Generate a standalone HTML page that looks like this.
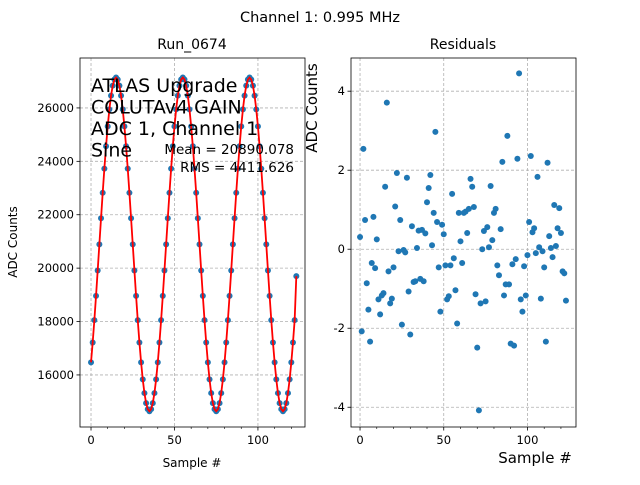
<!DOCTYPE html>
<html><head><meta charset="utf-8"><style>
body{margin:0;background:#fff;}
svg text{font-family:"DejaVu Sans","Liberation Sans",sans-serif;fill:#000;}
</style></head><body>
<svg id="chart" width="640" height="480">
<rect width="640" height="480" fill="#fff"/>
<text x="320" y="22" font-size="14.5" text-anchor="middle">Channel 1: 0.995 MHz</text>
<g id="left"></g><g id="right"></g>
</svg>
<script>
const cycle = [16471,17216,18052,18959,19913,20890,21867,22821,23728,24564,25309,25946,26459,26834,27063,27140,27063,26834,26459,25946,25309,24564,23728,22821,21867,20890,19913,18959,18052,17216,16471,15834,15321,14946,14717,14640,14717,14946,15321,15834];
const adcValues = cycle.concat(cycle, cycle, [16471,17216,18052,19700]);
const residuals = [0.31,-2.08,2.54,0.74,-0.86,-1.53,-2.34,-0.35,0.82,-0.48,
0.25,-1.27,-1.65,-1.17,-1.11,1.58,3.71,-0.56,-1.37,-1.25,
-0.46,1.08,1.93,-0.05,0.74,-1.91,-0.02,-0.08,1.81,-1.07,
-2.16,0.58,-0.83,-0.81,0.03,0.47,-0.75,0.49,-0.81,0.40,
1.19,1.55,1.88,0.10,0.92,2.97,0.69,-0.46,-1.58,0.62,
0.38,-0.41,-1.27,-1.19,-0.41,1.40,-0.23,-1.04,-1.88,0.92,
0.20,-0.35,0.92,0.95,0.41,1.02,1.78,1.58,1.07,-1.14,
-2.49,-4.08,-1.37,0,0.46,-1.32,0.56,0.05,1.60,0.23,
0.92,1.02,-0.41,-0.66,0.51,2.21,-1.17,-0.89,2.87,-0.89,
-2.39,-0.38,-2.44,-0.25,2.29,4.45,-1.27,-1.58,-0.43,-1.17,
-0.15,0.69,2.36,0.43,0.53,-0.10,1.83,0.05,-1.25,-0.05,
-0.46,-2.34,2.19,0.33,0.03,-0.20,1.12,0.08,0.53,1.04,
0.41,-0.56,-0.61,-1.30];
const xTicks = [0,50,100];
const leftYTicks = [16000,18000,20000,22000,24000,26000];
const rightYTicks = [-4,-2,0,2,4];

const NS='http://www.w3.org/2000/svg';
function mk(p,tag,a){const e=document.createElementNS(NS,tag);for(const k in a)e.setAttribute(k,a[k]);p.appendChild(e);return e;}

function panel(g,L,R,T,B,xmin,xmax,ymin,ymax,yTicks,ydata,withLine,name){
  const sx=v=>L+(v-xmin)/(xmax-xmin)*(R-L);
  const sy=v=>B-(v-ymin)/(ymax-ymin)*(B-T);
  xTicks.forEach(t=>{
    const l=mk(g,'line',{x1:sx(t),x2:sx(t),y1:T,y2:B,stroke:'#b0b0b0','stroke-dasharray':'3,2','stroke-width':0.8});
    
    
    mk(g,'line',{x1:sx(t),x2:sx(t),y1:B,y2:B+3.5,stroke:'#000','stroke-width':0.8});
    const tx=mk(g,'text',{x:sx(t),y:B+17,'font-size':11.5,'text-anchor':'middle'});tx.textContent=t;
    
    
  });
  for(let t=0;t<=125;t+=10){ if(t%50) mk(g,'line',{x1:sx(t),x2:sx(t),y1:B,y2:B+2,stroke:'#000','stroke-width':0.6}); }
  yTicks.forEach(t=>{
    const l=mk(g,'line',{x1:L,x2:R,y1:sy(t),y2:sy(t),stroke:'#b0b0b0','stroke-dasharray':'3,2','stroke-width':0.8});
    
    
    mk(g,'line',{x1:L-3.5,x2:L,y1:sy(t),y2:sy(t),stroke:'#000','stroke-width':0.8});
    const tx=mk(g,'text',{x:L-6,y:sy(t)+4,'font-size':11.5,'text-anchor':'end'});tx.textContent=t;
    
    
  });
  ydata.forEach((v,i)=>{
    const c=mk(g,'circle',{cx:sx(i),cy:sy(v),r:3,fill:'#1f77b4'});
    
    
  });
  if(withLine){
    const p=mk(g,'polyline',{points:ydata.map((v,i)=>sx(i)+','+sy(v)).join(' '),fill:'none',stroke:'#ff0000','stroke-width':1.8});
    
    
  }
  const f=mk(g,'rect',{x:L,y:T,width:R-L,height:B-T,fill:'none',stroke:'#000','stroke-width':0.8});
  
  
}
const lg=document.getElementById('left'), rg=document.getElementById('right');
panel(lg,80,305,58,427,-6.6,128.2,14050,27870,leftYTicks,adcValues,true,'adc');
panel(rg,351,576,58,427,-5.4,129,-4.5,4.84,rightYTicks,residuals,false,'residual');
function txt(g,s,a,name){const t=mk(g,'text',a);t.textContent=s;return t;}
txt(lg,'Run_0674',{x:192,y:49,'font-size':14,'text-anchor':'middle'},'left-title');
txt(rg,'Residuals',{x:463,y:49,'font-size':14,'text-anchor':'middle'},'right-title');
txt(lg,'Sample #',{x:192,y:467,'font-size':12,'text-anchor':'middle'},'left-x-axis-title');
txt(lg,'ADC Counts',{x:0,y:0,'font-size':12,'text-anchor':'middle',transform:'translate(17,242) rotate(-90)'},'left-y-axis-title');
txt(rg,'Sample #',{x:535,y:463,'font-size':15,'text-anchor':'middle'},'right-x-axis-title');
txt(rg,'ADC Counts',{x:0,y:0,'font-size':15,'text-anchor':'middle',transform:'translate(317,108) rotate(-90)'},'right-y-axis-title');
['ATLAS Upgrade','COLUTAv4 GAIN','ADC 1, Channel 1','Sine'].forEach((s,i)=>txt(lg,s,{x:91,y:92+i*21.5,'font-size':19},'annotation-line'));
txt(lg,'Mean = 20890.078',{x:294,y:154,'font-size':13.5,'text-anchor':'end'},'mean-label');
txt(lg,'RMS = 4411.626',{x:294,y:172,'font-size':13.5,'text-anchor':'end'},'rms-label');
</script>
</body></html>
